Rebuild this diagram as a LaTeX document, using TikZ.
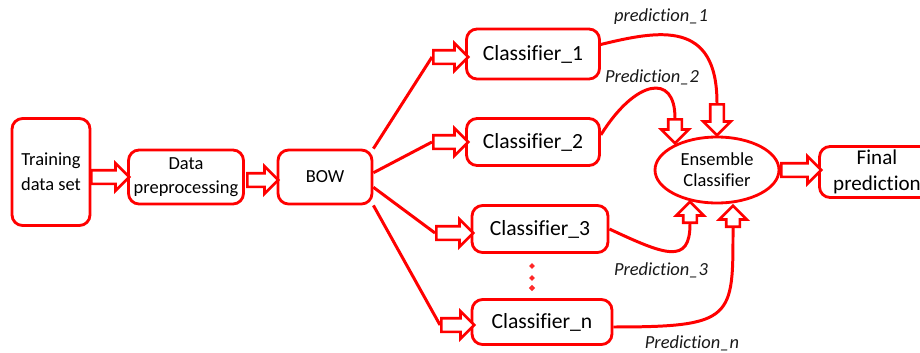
\documentclass[tikz,border=0pt]{standalone}
\usepackage{fontspec}
\setmainfont{Carlito}[Ligatures=NoCommon]
\usetikzlibrary{
    shapes.geometric,
    shapes.arrows
}

\begin{document}
\begin{tikzpicture}[
        x=0.02cm, y=-0.02cm,
        box/.style={draw=red, line width=1.6pt, rounded corners=6pt, align=center, inner sep=0pt, font=\fontsize{10.5}{14}\selectfont},
        classbox/.style={box, font=\fontsize{12.3}{14}\selectfont, minimum width=2.66cm, minimum height=0.96cm},
        fat/.style={single arrow, draw=red, line width=1.5pt, fill=white, inner xsep=0pt, inner ysep=0.11cm, single arrow head extend=0.14cm, anchor=west},
        link/.style={draw=red, line width=1.7pt},
        pred/.style={font=\fontsize{10.5}{12}\selectfont\itshape, text=black!90}
    ]
    \useasboundingbox (0,0) rectangle (920,352);

    % boxes
    \node[box, minimum width=1.56cm, minimum height=2.14cm] (train) at (51,172) {Training\\data set};
    \node[box, minimum width=2.3cm, minimum height=1.08cm, font=\fontsize{10.5}{13.5}\selectfont] (prep) at (186,177) {Data\\preprocessing};
    \node[box, minimum width=1.88cm, minimum height=1.08cm] (bow) at (325,177) {BOW};
    \node[classbox, minimum height=1.0cm] (c1) at (533,54) {Classifier\_1};
    \node[classbox, minimum height=0.94cm] (c2) at (533,142) {Classifier\_2};
    \node[classbox, minimum width=2.72cm, minimum height=0.94cm] (c3) at (540,229) {Classifier\_3};
    \node[classbox, minimum width=2.8cm, minimum height=0.9cm] (cn) at (542,322) {Classifier\_n};
    \node[draw=red, line width=1.6pt, ellipse, minimum width=2.48cm, minimum height=1.32cm, inner sep=0pt, align=center, font=\fontsize{10.5}{12}\selectfont] (ens) at (717,170) {Ensemble\\Classifier};
    \node[box, minimum width=2.3cm, minimum height=1.02cm, font=\fontsize{12}{14.8}\selectfont] (final) at (877,172) {Final\\prediction};

    % hollow arrows
    \node[fat, minimum height=0.76cm] (a1) at (90,177) {};
    \node[fat, minimum height=0.62cm] (a2) at (246,180) {};
    \node[fat, minimum height=0.7cm] (f1) at (432,57) {};
    \node[fat, minimum height=0.7cm] (f2) at (432,142) {};
    \node[fat, minimum height=0.74cm] (f3) at (435,233) {};
    \node[fat, minimum height=0.66cm] (fn) at (440,325) {};
    \node[fat, minimum height=0.8cm] (a3) at (780,170) {};
    \node[fat, rotate=-90, minimum height=0.62cm] (d1) at (717,103) {};
    \node[fat, rotate=-90, minimum height=0.48cm] (d2) at (675,118) {};
    \node[fat, rotate=90, minimum height=0.42cm] (u3) at (690,224) {};
    \node[fat, rotate=90, minimum height=0.42cm] (un) at (733,228) {};

    % connectors
    \draw[link] (bow.north east) -- (f1.west);
    \draw[link] (bow.5) -- (f2.west);
    \draw[link] (bow.-12) -- (f3.west);
    \draw[link] (bow.south east) -- (fn.west);
    \draw[link] (c1.8) .. controls (660,30) and (717,20) .. (d1.west);
    \draw[link] (c2.6) .. controls (635,80) and (675,72) .. (d2.west);
    \draw[link] (c3.east) .. controls (665,255) and (690,265) .. (u3.west);
    \draw[link] (cn.-4) .. controls +(121,0) and +(0,90) .. (un.west);

    % dots
    \foreach \dy/\r in {266/1.6, 278/1.6, 288/1.9}
        \draw[red!85, line width=1pt, fill=red!30] (532,\dy) circle (\r);

    % labels
    \node[pred] (p1) at (661,17) {prediction\_1};
    \node[pred] (p2) at (652,77) {Prediction\_2};
    \node[pred] (p3) at (661,270) {Prediction\_3};
    \node[pred] (pn) at (692,343) {Prediction\_n};
\end{tikzpicture}
\end{document}
